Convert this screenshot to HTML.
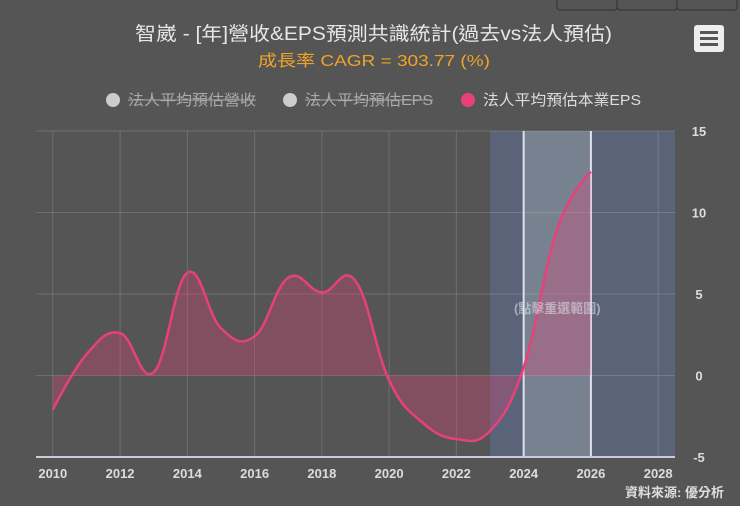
<!DOCTYPE html>
<html><head><meta charset="utf-8"><style>
body{margin:0;background:#555;}
#c{position:relative;width:740px;height:506px;background:#555;overflow:hidden;font-family:"Liberation Sans","Noto Sans CJK TC",sans-serif;}
</style></head><body>
<div id="c">
<svg id="s" width="740" height="506" xmlns="http://www.w3.org/2000/svg">
<rect x="557" y="-6" width="60" height="16" rx="3" fill="#555" stroke="#333"/>
<rect x="617" y="-6" width="60" height="16" rx="3" fill="#555" stroke="#333"/>
<rect x="677" y="-6" width="60" height="16" rx="3" fill="#555" stroke="#333"/>
<text x="135" y="40" textLength="477" lengthAdjust="spacingAndGlyphs" font-size="19" fill="#e6e6e6">智崴 - [年]營收&amp;EPS預測共識統計(過去vs法人預估)</text>
<text x="258" y="66" textLength="232" lengthAdjust="spacingAndGlyphs" font-size="16" fill="#f0a428">成長率 CAGR = 303.77 (%)</text>
<g><rect x="694" y="25" width="30" height="27" rx="3" fill="#eee"/><rect x="700" y="31" width="18" height="3" fill="#555"/><rect x="700" y="37" width="18" height="3" fill="#555"/><rect x="700" y="43" width="18" height="3" fill="#555"/></g>
<g font-size="15">
<g><circle cx="113" cy="100" r="7" fill="#ccc"/><text x="128" y="105" textLength="128" lengthAdjust="spacingAndGlyphs" fill="#aaa">法人平均預估營收</text><line x1="128" y1="100" x2="256" y2="100" stroke="#aaa"/></g>
<g><circle cx="290" cy="100" r="7" fill="#ccc"/><text x="305" y="105" textLength="128" lengthAdjust="spacingAndGlyphs" fill="#aaa">法人平均預估EPS</text><line x1="305" y1="100" x2="433" y2="100" stroke="#aaa"/></g>
<g><circle cx="468" cy="100" r="7" fill="#e8417a"/><text x="483" y="105" textLength="158" lengthAdjust="spacingAndGlyphs" fill="#ddd">法人平均預估本業EPS</text></g>
</g>
<g id="plot"></g>
<text x="724" y="497" text-anchor="end" font-size="13" font-weight="bold" fill="#ddd">資料來源: 優分析</text>
</svg>
</div>
<script>
const years=[2010,2011,2012,2013,2014,2015,2016,2017,2018,2019,2020,2021,2022,2023,2024,2025,2026];
const eps=[-2.1,1.3,2.6,0.2,6.3,2.9,2.4,6.0,5.1,5.8,-0.3,-2.9,-3.9,-3.4,0.5,9.0,12.5];
const xTicks=[2010,2012,2014,2016,2018,2020,2022,2024,2026,2028];
const yTicks=[-5,0,5,10,15];
const band=[2023,2028.5];
const selBand=[2024,2026];
const NS="http://www.w3.org/2000/svg";
const L=36,R=675,T=131,B=457,xmin=2009.5,xmax=2028.5,ymin=-5,ymax=15;
const X=v=>L+(v-xmin)/(xmax-xmin)*(R-L);
const Y=v=>B-(v-ymin)/(ymax-ymin)*(B-T);
const g=document.getElementById('plot');
function mk(t,a){const e=document.createElementNS(NS,t);for(const k in a)e.setAttribute(k,a[k]);g.appendChild(e);return e;}
let e=mk('rect',{x:X(band[0]),y:T,width:X(band[1])-X(band[0]),height:B-T,fill:'#5a6378'});


e=mk('rect',{x:X(selBand[0]),y:T,width:X(selBand[1])-X(selBand[0]),height:B-T,fill:'#78818f'});


[selBand[0],selBand[1]].forEach(v=>{let l=mk('line',{x1:X(v),x2:X(v),y1:T,y2:B,stroke:'#dde',"stroke-width":2});

});
xTicks.forEach(t=>{let l=mk('line',{x1:X(t),x2:X(t),y1:T,y2:B,stroke:'rgba(255,255,255,0.15)'});


let tx=mk('text',{x:X(t),y:478,"text-anchor":"middle","font-size":13,"font-weight":"bold",fill:'#ddd'});tx.textContent=t;

});
yTicks.forEach(t=>{let l=mk('line',{x1:L,x2:R,y1:Y(t),y2:Y(t),stroke:'rgba(255,255,255,0.15)'});


let tx=mk('text',{x:699,y:Y(t)+5,"text-anchor":"middle","font-size":13,"font-weight":"bold",fill:'#ddd'});tx.textContent=t;

});
const pts=years.map((y,i)=>[X(y),Y(eps[i])]);
function ctrl(i){const sm=1.5,d=2.5;const p=pts[i],a=pts[i-1],b=pts[i+1];
let lx=(sm*p[0]+a[0])/d,ly=(sm*p[1]+a[1])/d,rx=(sm*p[0]+b[0])/d,ry=(sm*p[1]+b[1])/d;
if(rx!==lx){const c=(ry-ly)/(rx-lx);ly+=p[1]-(ly+c*(p[0]-lx));ry=ly+c*(rx-lx);}
return [lx,ly,rx,ry];}
let dp='M'+pts[0][0]+','+pts[0][1];
for(let i=1;i<pts.length;i++){const a=i-1>0?ctrl(i-1):null;const b=i<pts.length-1?ctrl(i):null;
const c1=a?[a[2],a[3]]:pts[i-1];const c2=b?[b[0],b[1]]:pts[i];
dp+=` C${c1[0]},${c1[1]} ${c2[0]},${c2[1]} ${pts[i][0]},${pts[i][1]}`;}
e=mk('path',{d:dp+` L${pts[pts.length-1][0]},${Y(0)} L${pts[0][0]},${Y(0)} Z`,fill:'rgba(232,65,122,0.3)'});


e=mk('path',{d:dp,fill:'none',stroke:'#e8417a',"stroke-width":2.5});


e=mk('line',{x1:L,x2:R,y1:B,y2:B,stroke:'#ccd',"stroke-width":2});


e=mk('text',{x:(X(selBand[0])+X(selBand[1]))/2,y:313,"text-anchor":"middle","font-size":13,"font-weight":"bold",fill:'rgba(220,220,230,0.6)'});e.textContent='(點擊重選範圍)';


</script>
</body></html>
